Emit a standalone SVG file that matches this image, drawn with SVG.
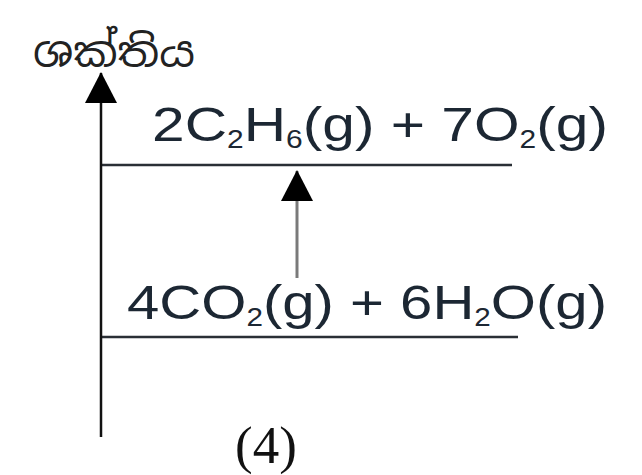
<svg xmlns="http://www.w3.org/2000/svg" width="642" height="475" viewBox="0 0 642 475">
<style>
.chem{font-family:"Liberation Sans",Arial,sans-serif;font-size:49px;fill:#1c2733}
.sub{font-size:25px}
.lvl{stroke:#2a2f35;stroke-width:2.5}
.axis{stroke:#111;stroke-width:2.5}
</style>
<defs>
<marker id="ah" markerWidth="31" markerHeight="32" refX="30" refY="16" orient="auto" markerUnits="userSpaceOnUse" viewBox="0 0 31 32">
<path d="M31 16 L0 0 L0 32 Z" fill="#000"/>
</marker>
</defs>
<rect width="642" height="475" fill="#fff"/>
<g id="axis-label">
<text x="33" y="67" font-family="'Noto Sans Sinhala','Iskoola Pota','Noto Sans',sans-serif" font-size="42" fill="#222" textLength="162" lengthAdjust="spacingAndGlyphs">ශක්තිය</text>
</g>
<g id="reactants">
<line class="lvl" x1="101" y1="165" x2="512" y2="165"/>
<text class="chem" x="152" y="141" textLength="456" lengthAdjust="spacingAndGlyphs">2C<tspan class="sub" dy="7">2</tspan><tspan dy="-7">H</tspan><tspan class="sub" dy="7">6</tspan><tspan dy="-7">(g) + 7O</tspan><tspan class="sub" dy="7">2</tspan><tspan dy="-7">(g)</tspan></text>
</g>
<g id="products">
<line class="lvl" x1="101" y1="337" x2="518" y2="337"/>
<text class="chem" x="127" y="319" textLength="480" lengthAdjust="spacingAndGlyphs">4CO<tspan class="sub" dy="7">2</tspan><tspan dy="-7">(g) + 6H</tspan><tspan class="sub" dy="7">2</tspan><tspan dy="-7">O(g)</tspan></text>
</g>
<g id="connectors">
<line class="axis" x1="101" y1="437" x2="101" y2="73" marker-end="url(#ah)"/>
<line x1="297" y1="278" x2="297" y2="171" stroke="#7a7a7a" stroke-width="3" marker-end="url(#ah)"/>
</g>
<g id="caption">
<text x="235" y="463" font-family="'Liberation Serif','Times New Roman',serif" font-size="53" fill="#111">(4)</text>
</g>
</svg>
